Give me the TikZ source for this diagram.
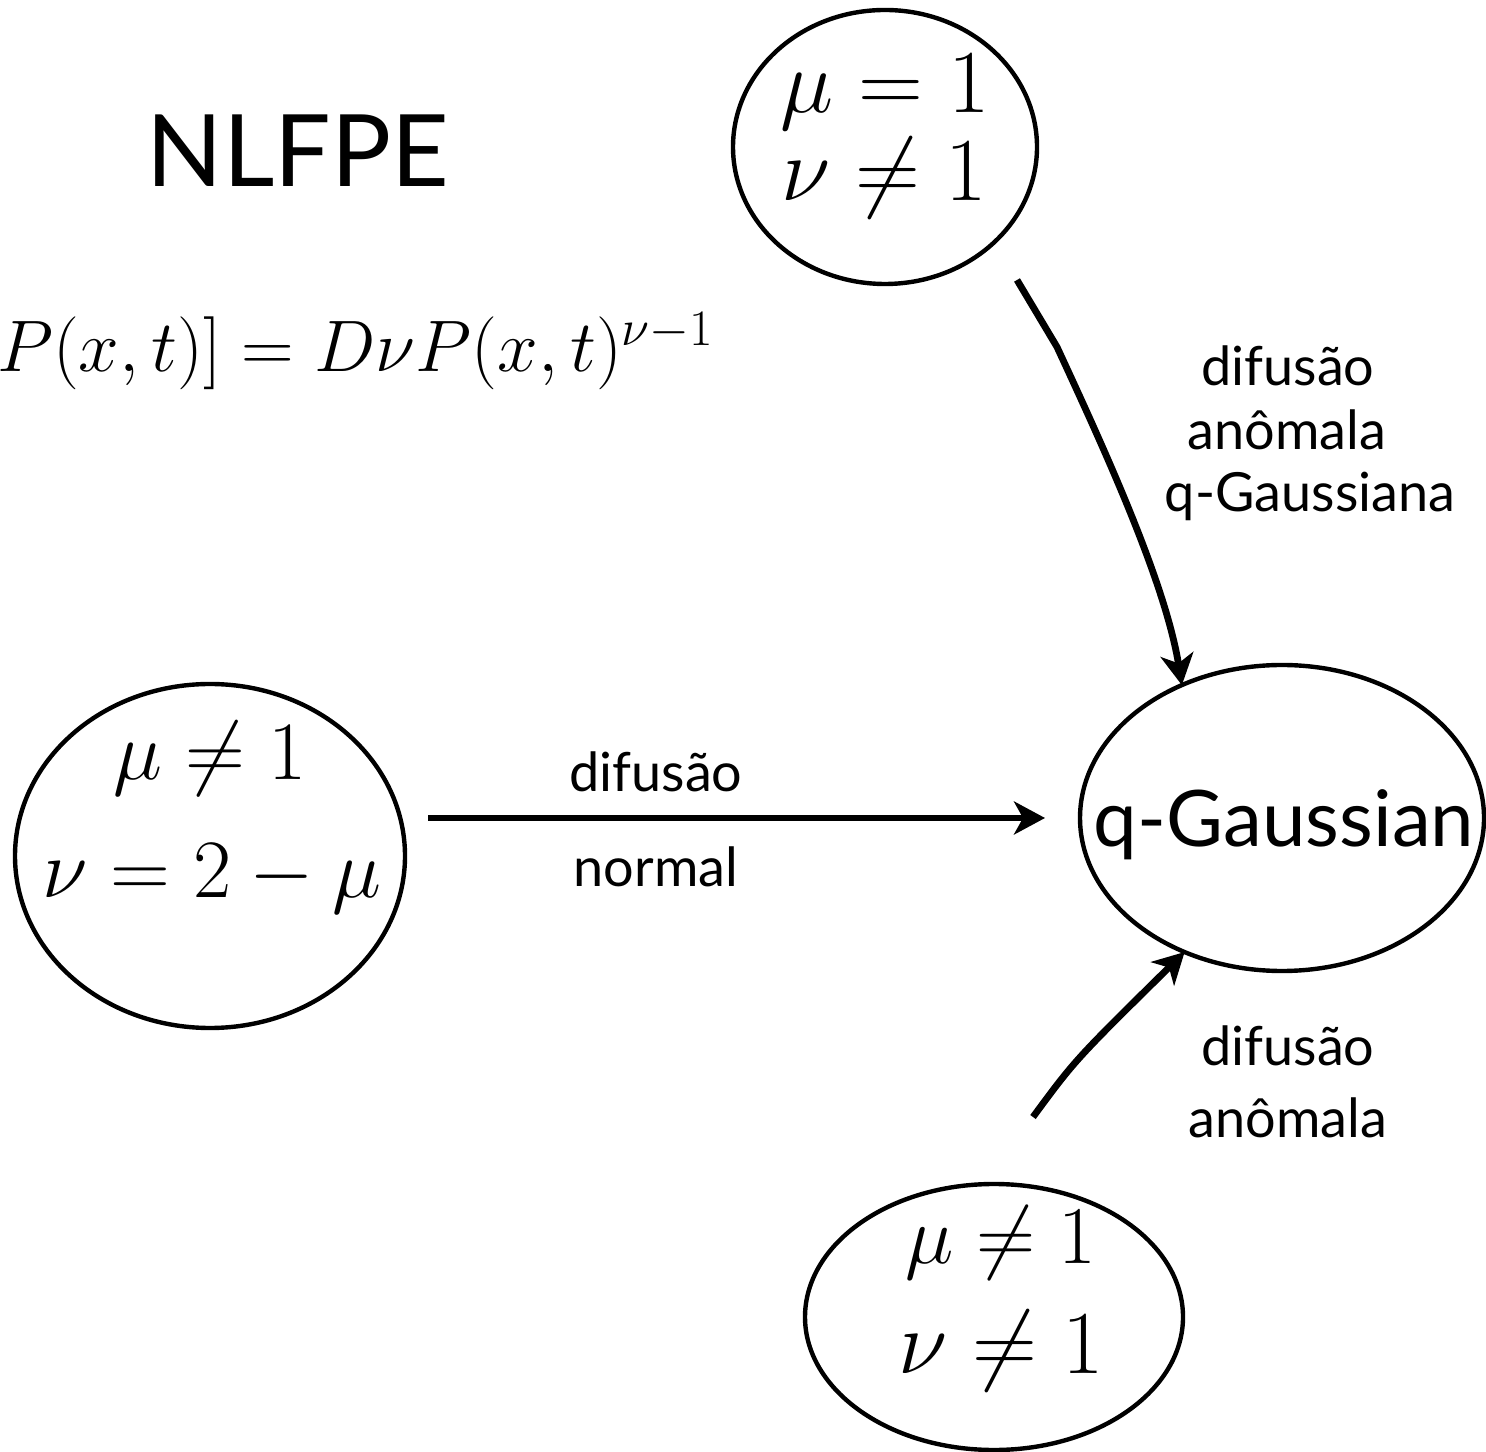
\RequirePackage{fix-cm}
\documentclass[tikz,border=0pt]{standalone}
\usepackage{fontspec}
\newfontfamily\gillfont{Lato}
\usetikzlibrary{arrows.meta,shapes.geometric}
\tikzset{
  oval/.style    = {draw, ellipse, line width=2.2pt, inner sep=0pt, outer sep=0pt},
  mth/.style     = {font=\fontsize{#1}{#1}\selectfont, anchor=base, inner sep=0pt, outer sep=0pt},
  lab/.style     = {font=\gillfont\fontsize{27pt}{32pt}\selectfont, anchor=base, inner sep=0pt, outer sep=0pt},
  heading/.style = {font=\gillfont\fontsize{#1}{#1}\selectfont, anchor=base, inner sep=0pt, outer sep=0pt},
  flow/.style    = {-{Stealth[length=15.5pt,width=16.5pt,inset=4.5pt]}, line width=3.4pt},
}

\begin{document}
\begin{tikzpicture}[x=0.5pt,y=0.5pt]
\path[use as bounding box] (0,0) rectangle (1486,1451);

\node[heading=50pt] (title) at (298,1264) {NLFPE};
\node[mth=36.5pt, anchor=base west] (eq) at (-3,1079) {$P(x,t)] = D\nu P(x,t)^{\nu-1}$};

% ---- the four regimes ---------------------------------------------------
\node[oval, minimum width=152pt, minimum height=137pt] (top) at (885,1304) {};
\node[oval, minimum width=195pt, minimum height=172pt] (nrm) at (210,595) {};
\node[oval, minimum width=202pt, minimum height=153pt] (qg)  at (1282,633) {};
\node[oval, minimum width=189pt, minimum height=133pt] (bot) at (994,134) {};

\node[mth=45pt]   (topa) at (885,1338) {$\mu = 1$};
\node[mth=45pt]   (topb) at (884,1250) {$\nu \neq 1$};
\node[mth=41.5pt] (nrma) at (210,671)  {$\mu \neq 1$};
\node[mth=41.5pt] (nrmb) at (212,553)  {$\nu = 2 - \mu$};
\node[mth=41pt]   (bota) at (1001,188) {$\mu \neq 1$};
\node[mth=45pt]   (botb) at (1001,78)  {$\nu \neq 1$};
\node[heading=39pt] (qgtxt) at (1284,604) {q-Gaussian};

% ---- connectors ---------------------------------------------------------
\draw[flow, shorten <=11.5pt, shorten >=17.5pt] (nrm.east |- qg.west) -- (qg.west);
\coordinate (tstart) at (1017,1171);
\draw[flow] (tstart) -- (1057,1104) .. controls (1100,1011) and (1165,871) .. (qg.127);
\coordinate (bstart) at (1033,334);
\draw[flow] (bstart) .. controls (1075,391) .. (qg.234);

% ---- labels -------------------------------------------------------------
\node[lab] (hza) at (656,659) {difusão};
\node[lab] (hzb) at (656,564) {normal};
\foreach \x/\y/\txt in {1288/1065/difusão, 1287/1001/anômala, 1310/939/q-Gaussiana} {
  \node[lab] (tl\y) at (\x,\y) {\txt};
}
\foreach \y/\txt in {386/difusão, 314/anômala} {
  \node[lab] (bl\y) at (1288,\y) {\txt};
}

\end{tikzpicture}
\end{document}
